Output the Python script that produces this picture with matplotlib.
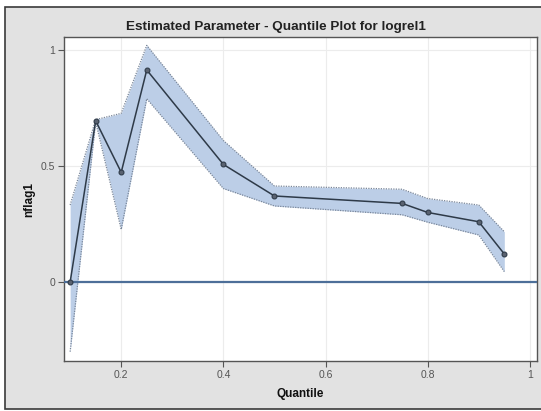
import numpy as np
import matplotlib
matplotlib.use('Agg')
import matplotlib.pyplot as plt
from matplotlib.patches import Rectangle

plt.rcParams['font.family'] = ['Liberation Sans', 'DejaVu Sans']

# Quantile regression estimates for nflag1
quantiles = [0.10, 0.15, 0.20, 0.25, 0.40, 0.50, 0.75, 0.80, 0.90, 0.95]
estimate = [0.0, 0.695, 0.473, 0.914, 0.507, 0.371, 0.339, 0.300, 0.260, 0.121]
upper_cl = [0.332, 0.700, 0.727, 1.020, 0.610, 0.414, 0.400, 0.360, 0.332, 0.217]
lower_cl = [-0.300, 0.690, 0.227, 0.790, 0.403, 0.328, 0.290, 0.258, 0.203, 0.045]

xticks = [0.2, 0.4, 0.6, 0.8, 1.0]
xticklabels = ['0.2', '0.4', '0.6', '0.8', '1']
yticks = [0.0, 0.5, 1.0]
yticklabels = ['0', '0.5', '1']

fig = plt.figure(figsize=(5.41, 4.11), dpi=100)
fig.patch.set_facecolor('white')
# grey panel with dark frame
panel = Rectangle((5/541, 2/411), 1.0, 1 - 7/411 - 2/411,
                  transform=fig.transFigure, facecolor='#e2e2e2',
                  edgecolor='#3a3a3a', linewidth=1.2, zorder=-10)
fig.add_artist(panel)

ax = fig.add_axes([64/541, 1 - 361/411, (537 - 64)/541, (361 - 37)/411])
ax.set_zorder(5)
ax.set_facecolor('white')

ax.fill_between(quantiles, lower_cl, upper_cl, color='#bccee7', lw=0, zorder=2)
ax.plot(quantiles, upper_cl, color='#7a879a', lw=0.9, ls=(0, (1, 1)), zorder=3)
ax.plot(quantiles, lower_cl, color='#7a879a', lw=0.9, ls=(0, (1, 1)), zorder=3)
ax.axhline(0, color='#4d6f99', lw=1.6, zorder=4)
ax.plot(quantiles, estimate, color='#2e3a48', lw=1.1, marker='o', ms=3.5,
        mfc='#5a6270', mec='#2e3a48', mew=0.8, zorder=5)

ax.set_xlim(0.088, 1.014)
ax.set_ylim(-0.34, 1.056)
ax.set_xticks(xticks)
ax.set_xticklabels(xticklabels)
ax.set_yticks(yticks)
ax.set_yticklabels(yticklabels)
ax.grid(True, color='#ececec', lw=0.8, zorder=1)
ax.set_axisbelow(True)
ax.tick_params(colors='#555555', labelsize=7.5, length=4, width=0.8,
               direction='out', pad=2.5)
for s in ax.spines.values():
    s.set_color('#555555')
    s.set_linewidth(1.0)

fig.text(276/541, 1 - 27/411, 'Estimated Parameter - Quantile Plot for logrel1',
         fontsize=9.7, fontweight='bold', color='#222222', ha='center', va='center')
ax.set_xlabel('Quantile', fontsize=8.5, fontweight='bold', color='#111111', labelpad=6)
ax.set_ylabel('nflag1', fontsize=8.5, fontweight='bold', color='#111111', labelpad=4)

plt.savefig('out.png', dpi=100)
